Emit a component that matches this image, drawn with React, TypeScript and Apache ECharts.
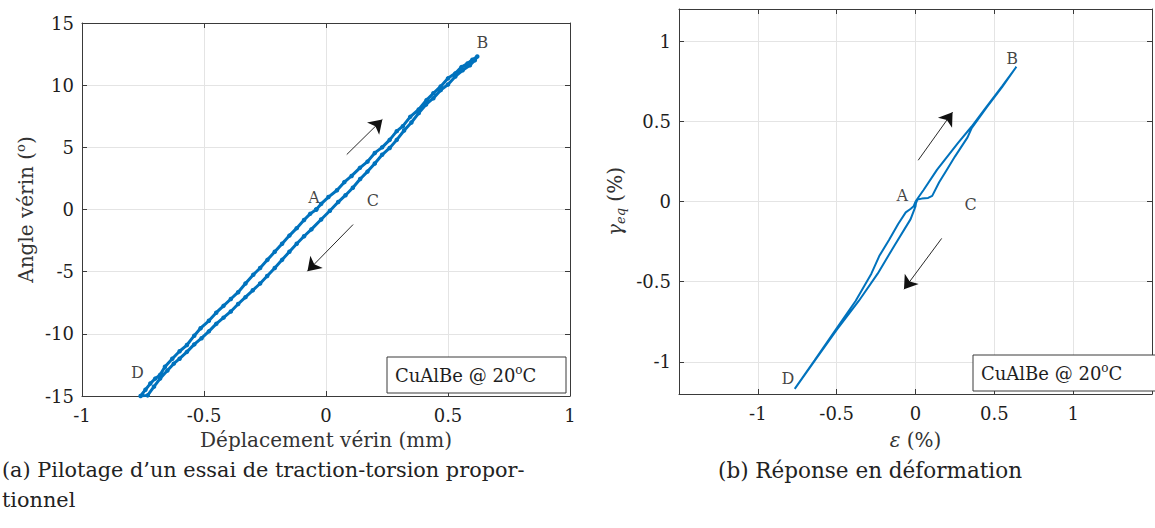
import React, { useEffect, useRef } from "react";
import * as echarts from "echarts";

// ---- (a) actuator angle vs actuator displacement, one proportional cycle A-B-C-D-A
const loopDispX: number[] = [
  -0.040, -0.020, 0.010, 0.045, 0.075, 0.105, 0.139, 0.170, 0.200, 0.230, 0.261, 0.290,
  0.315, 0.345, 0.380, 0.412, 0.440, 0.470, 0.500, 0.530, 0.555, 0.580, 0.600, 0.620,
  0.610, 0.590, 0.560, 0.530, 0.500, 0.470, 0.440, 0.410, 0.380, 0.350, 0.320, 0.290,
  0.261, 0.230, 0.200, 0.170, 0.140, 0.110, 0.080, 0.050, 0.016, -0.020, -0.060, -0.090,
  -0.120, -0.150, -0.180, -0.210, -0.241, -0.270, -0.300, -0.330, -0.360, -0.390, -0.420, -0.450,
  -0.480, -0.510, -0.540, -0.570, -0.600, -0.624, -0.650, -0.680, -0.705, -0.731,
  -0.760, -0.740, -0.720, -0.700, -0.680, -0.660, -0.630, -0.600, -0.570, -0.540, -0.514, -0.480,
  -0.450, -0.420, -0.390, -0.360, -0.330, -0.298, -0.270, -0.240, -0.210, -0.180, -0.150, -0.120,
  -0.090, -0.065, -0.040,
];
const loopAngleY: number[] = [
  0.00, 0.45, 1.00, 1.55, 2.20, 2.70, 3.35, 3.85, 4.55, 5.00, 5.60, 6.30,
  6.70, 7.45, 8.05, 8.80, 9.35, 9.90, 10.55, 10.95, 11.45, 11.75, 12.05, 12.30,
  12.00, 11.60, 11.20, 10.70, 10.05, 9.60, 8.95, 8.45, 7.75, 7.00, 6.35, 5.60,
  4.95, 4.40, 3.70, 3.05, 2.45, 1.75, 1.15, 0.60, -0.10, -0.80, -1.60, -2.15,
  -2.75, -3.40, -4.05, -4.70, -5.35, -5.95, -6.50, -7.05, -7.60, -8.20, -8.70, -9.20,
  -9.80, -10.35, -10.85, -11.45, -12.00, -12.40, -12.95, -13.60, -14.25, -14.95,
  -15.00, -14.50, -14.00, -13.60, -13.30, -12.65, -12.00, -11.40, -10.90, -10.15, -9.55, -8.95,
  -8.30, -7.75, -7.20, -6.65, -5.95, -5.25, -4.70, -4.05, -3.40, -2.75, -2.10, -1.50,
  -0.85, -0.35, 0.00,
];

// ---- (b) equivalent shear strain vs axial strain (%)
const strainEps: number[] = [
  0.000, 0.050, 0.137, 0.270, 0.355, 0.450, 0.550, 0.640,
  0.550, 0.450, 0.355, 0.330, 0.250, 0.200, 0.150, 0.106, 0.080, 0.040, 0.012, 0.003, 0.000,
  -0.031, -0.137, -0.240, -0.360, -0.500, -0.630, -0.766,
  -0.640, -0.500, -0.380, -0.280, -0.230, -0.168, -0.110, -0.062, -0.030, -0.012, 0.000,
];
const strainGamma: number[] = [
  0.000, 0.070, 0.199, 0.366, 0.466, 0.590, 0.720, 0.840,
  0.715, 0.585, 0.455, 0.400, 0.280, 0.200, 0.120, 0.035, 0.022, 0.018, 0.012, -0.010, -0.030,
  -0.110, -0.280, -0.450, -0.620, -0.800, -0.980, -1.168,
  -0.990, -0.790, -0.620, -0.450, -0.340, -0.240, -0.140, -0.068, -0.045, -0.030, 0.000,
];

// point labels [x, y, name]
const pointsA: [number, number, string][] = [
  [-0.049, 0.93, "A"], [0.641, 13.4, "B"], [0.192, 0.76, "C"], [-0.773, -13.15, "D"],
];
const pointsB: [number, number, string][] = [
  [-0.084, 0.04, "A"], [0.613, 0.891, "B"], [0.349, -0.019, "C"], [-0.809, -1.106, "D"],
];

// direction arrows [tailX, tailY, tipX, tipY]
const arrowsA: [number, number, number, number][] = [
  [0.085, 4.42, 0.231, 7.24],
  [0.111, -1.21, -0.076, -4.96],
];
const arrowsB: [number, number, number, number][] = [
  [0.017, 0.257, 0.235, 0.557],
  [0.166, -0.23, -0.073, -0.547],
];

const gammaTicks: number[] = [-1, -0.5, 0, 0.5, 1];

const SERIF = "DejaVu Serif";
const BLUE = "#0072BD";
const AXIS_COLOR = "#3a3a3a";
const GRID_COLOR = "#e4e4e4";

const zip = (xs: number[], ys: number[]) => xs.map((x, i) => [x, ys[i]]);

const tickLabel = { fontFamily: SERIF, fontSize: 18, color: "#1e1e1e" };
const nameStyle = {
  fontFamily: SERIF,
  fontSize: 20,
  color: "#333",
  rich: {
    sup: { fontFamily: SERIF, fontSize: 13, color: "#333", padding: [0, 0, 11, 0] },
    sub: { fontFamily: SERIF, fontSize: 13, fontStyle: "italic", color: "#333", padding: [11, 0, 0, 0] },
    it: { fontFamily: SERIF, fontSize: 20, fontStyle: "italic", color: "#333" },
    n: { fontFamily: SERIF, fontSize: 20, color: "#333" },
  },
};

function mainAxis(extra: any) {
  return {
    type: "value",
    axisLine: { show: true, onZero: false, lineStyle: { color: AXIS_COLOR, width: 1 } },
    axisTick: { show: true, inside: true, length: 5, lineStyle: { color: AXIS_COLOR } },
    splitLine: { show: true, lineStyle: { color: GRID_COLOR, width: 1 } },
    axisLabel: { ...tickLabel, margin: 10 },
    ...extra,
  };
}

function boxAxis(extra: any) {
  return {
    type: "value",
    axisLine: { show: true, onZero: false, lineStyle: { color: AXIS_COLOR, width: 1 } },
    axisTick: { show: true, inside: true, length: 5, lineStyle: { color: AXIS_COLOR } },
    splitLine: { show: false },
    axisLabel: { show: false },
    ...extra,
  };
}

function arrowLines(list: [number, number, number, number][]) {
  return list.map(([x1, y1, x2, y2]) => [{ coord: [x1, y1] }, { coord: [x2, y2] }]);
}

function labelSeries(pts: [number, number, string][], arrows: [number, number, number, number][], gi: number) {
  return {
    type: "scatter",
    xAxisIndex: gi * 2,
    yAxisIndex: gi * 2,
    symbolSize: 0,
    silent: true,
    data: pts,
    itemStyle: { color: "#111" },
    label: {
      show: true,
      position: "inside",
      formatter: (p: any) => p.data[2],
      fontFamily: SERIF,
      fontSize: 16,
      color: "#111",
    },
    markLine: {
      silent: true,
      symbol: ["none", "arrow"],
      symbolSize: 13,
      label: { show: false },
      itemStyle: { color: "#111" },
      lineStyle: { color: "#111", width: 0.9, type: "solid" },
      data: arrowLines(arrows),
    },
  };
}

function legendBox(x: number, y: number, w: number, h: number) {
  return {
    type: "group",
    children: [
      {
        type: "rect",
        shape: { x, y, width: w, height: h },
        style: { fill: "#fff", stroke: AXIS_COLOR, lineWidth: 1 },
        z: 10,
      },
      {
        type: "text",
        x: x + 8,
        y: y + h / 2,
        z: 11,
        style: {
          text: "CuAlBe @ 20{sup|o}C",
          fontFamily: SERIF,
          fontSize: 18,
          fill: "#1e1e1e",
          textVerticalAlign: "middle",
          rich: {
            sup: { fontFamily: SERIF, fontSize: 12, fill: "#1e1e1e", padding: [0, 0, 10, 0] },
          },
        },
      },
    ],
  };
}

export default function App() {
  const ref = useRef<HTMLDivElement>(null);

  useEffect(() => {
    if (!ref.current) return;
    const chart = echarts.init(ref.current, undefined, { renderer: "svg" });

    chart.setOption({
      animation: false,
      backgroundColor: "#ffffff",
      grid: [
        { left: 82, top: 23, width: 488, height: 373 },
        { left: 679, top: 9, width: 482, height: 385 },
      ],
      xAxis: [
        mainAxis({
          gridIndex: 0, position: "bottom", min: -1, max: 1, interval: 0.5,
          name: "Déplacement vérin (mm)", nameLocation: "middle", nameGap: 34,
          nameTextStyle: nameStyle,
        }),
        boxAxis({ gridIndex: 0, position: "top", min: -1, max: 1, interval: 0.5 }),
        mainAxis({
          gridIndex: 1, position: "bottom", min: -1.5, max: 1.5, interval: 0.5,
          axisLabel: {
            ...tickLabel, margin: 10,
            formatter: (v: number) => (Math.abs(v) > 1.2 ? "" : String(v)),
          },
          name: "{it|ε} {n|(%)}", nameLocation: "middle", nameGap: 36,
          nameTextStyle: nameStyle,
        }),
        boxAxis({ gridIndex: 1, position: "top", min: -1.5, max: 1.5, interval: 0.5 }),
      ],
      yAxis: [
        mainAxis({
          gridIndex: 0, position: "left", min: -15, max: 15, interval: 5,
          axisLabel: { ...tickLabel, margin: 8 },
          name: "Angle vérin ({sup|o})", nameLocation: "middle", nameGap: 44,
          nameTextStyle: nameStyle,
        }),
        boxAxis({ gridIndex: 0, position: "right", min: -15, max: 15, interval: 5 }),
        mainAxis({
          gridIndex: 1, position: "left", min: -1.2, max: 1.2,
          axisLabel: { ...tickLabel, margin: 8, customValues: gammaTicks },
          axisTick: {
            show: true, inside: true, length: 5, lineStyle: { color: AXIS_COLOR },
            customValues: gammaTicks,
          },
          name: "{it|γ}{sub|eq} {n|(%)}", nameLocation: "middle", nameGap: 52,
          nameTextStyle: nameStyle,
        }),
        boxAxis({
          gridIndex: 1, position: "right", min: -1.2, max: 1.2,
          axisTick: {
            show: true, inside: true, length: 5, lineStyle: { color: AXIS_COLOR },
            customValues: gammaTicks,
          },
        }),
      ],
      series: [
        {
          type: "line",
          xAxisIndex: 0,
          yAxisIndex: 0,
          data: zip(loopDispX, loopAngleY),
          showSymbol: true,
          symbol: "circle",
          symbolSize: 4.5,
          itemStyle: { color: BLUE },
          lineStyle: { color: BLUE, width: 3 },
          clip: true,
          silent: true,
        },
        labelSeries(pointsA, arrowsA, 0),
        {
          type: "line",
          xAxisIndex: 2,
          yAxisIndex: 2,
          data: zip(strainEps, strainGamma),
          showSymbol: false,
          lineStyle: { color: BLUE, width: 2 },
          clip: true,
          silent: true,
        },
        labelSeries(pointsB, arrowsB, 1),
      ],
      graphic: [
        legendBox(387, 357, 179, 36),
        legendBox(973, 355, 186, 36),
        {
          type: "text",
          x: 2,
          y: 470,
          style: {
            text: "(a) Pilotage d’un essai de traction-torsion propor-",
            fontFamily: SERIF, fontSize: 20.8, fill: "#222", textVerticalAlign: "middle",
          },
        },
        {
          type: "text",
          x: 2,
          y: 500,
          style: {
            text: "tionnel",
            fontFamily: SERIF, fontSize: 20.8, fill: "#222", textVerticalAlign: "middle",
          },
        },
        {
          type: "text",
          x: 718,
          y: 470,
          style: {
            text: "(b) Réponse en déformation",
            fontFamily: SERIF, fontSize: 21.5, fill: "#222", textVerticalAlign: "middle",
          },
        },
      ],
    });

    return () => chart.dispose();
  }, []);

  return (
    <div
      ref={ref}
      style={{ position: "fixed", left: 0, top: 0, width: 1155, height: 528, background: "#fff" }}
    />
  );
}
